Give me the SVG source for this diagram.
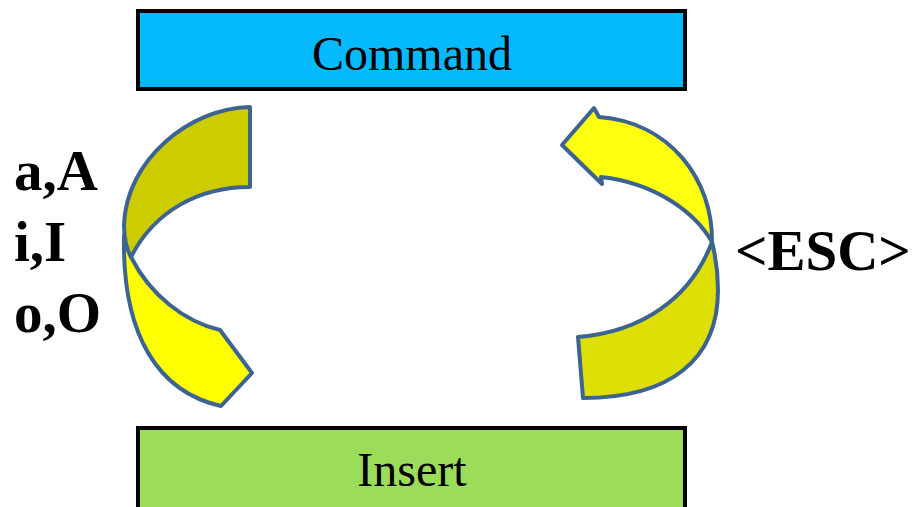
<svg xmlns="http://www.w3.org/2000/svg" width="916" height="507" viewBox="0 0 916 507">
<style>
.box{stroke:#000;stroke-width:4}
.arr{stroke:#3D6491;stroke-width:4;stroke-linejoin:round}
.lbl{font-family:"Liberation Serif","Times New Roman",serif;fill:#000}
.key{font-family:"Liberation Serif","Times New Roman",serif;font-weight:bold;font-size:57px;fill:#000}
</style>
<rect width="916" height="507" fill="#fff"/>
<g id="command">
<rect class="box" x="138" y="11" width="547" height="78" fill="#05BAFC"/>
<text class="lbl" x="412" y="70" font-size="48" text-anchor="middle">Command</text>
</g>
<g id="insert">
<rect class="box" x="138" y="428" width="547" height="85" fill="#9BDD5A"/>
<text class="lbl" x="412" y="486" font-size="48" text-anchor="middle">Insert</text>
</g>
<g id="connectors">
<g id="to-insert">
<path class="arr" fill="#FFFF00" d="M124 236 C122 335 158 392 221 406 L252 373 L220 330 C185 322 150 295 131 257 Z"/>
<path class="arr" fill="#CCCC00" d="M250 107 L250 187 C200 187 155 210 131 257 C126 248 124 238 124 225 C126 160 190 108 250 107 Z"/>
</g>
<g id="to-command">
<path class="arr" fill="#DFDF08" d="M712 242 C716 258 718 275 718 290 C718 360 670 398 583 398 L578 337 C640 332 690 300 712 242 Z"/>
<path class="arr" fill="#FFFF10" d="M599 117 C670 122 713 180 712 242 C695 212 655 183 601 177 L602 184 L562 145 L594 108 Z"/>
</g>
</g>
<g id="labels">
<text class="key" x="14" y="190">a,A</text>
<text class="key" x="14" y="261">i,I</text>
<text class="key" x="14" y="332">o,O</text>
<text class="key" x="735" y="270" font-size="58">&lt;ESC&gt;</text>
</g>
</svg>
